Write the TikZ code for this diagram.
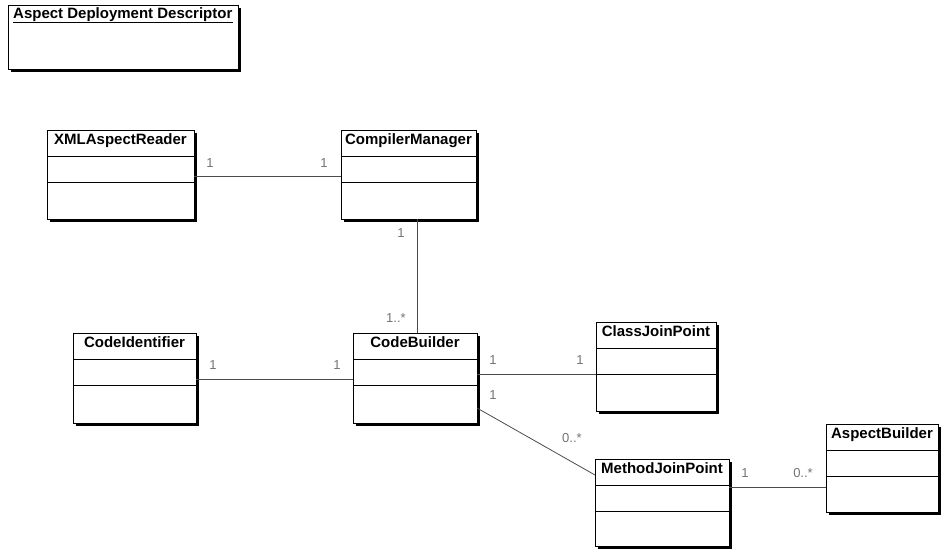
\documentclass[tikz,border=0pt]{standalone}
\usepackage{fontspec}
\setmainfont{Liberation Sans}
\usetikzlibrary{shadows}

\tikzset{
  umlclass/.style={rectangle, draw, line width=1pt, fill=white, anchor=north west, outer sep=0pt,
    minimum height=89pt,
    drop shadow={shadow xshift=3pt, shadow yshift=-3pt, fill=black, opacity=1},
    path picture={
      \draw[line width=0.8pt] ([yshift=-26pt]path picture bounding box.north west) -- ([yshift=-26pt]path picture bounding box.north east)
                              ([yshift=-52pt]path picture bounding box.north west) -- ([yshift=-52pt]path picture bounding box.north east);
    }},
  umlpackage/.style={rectangle, draw, line width=1pt, fill=white, anchor=north west, outer sep=0pt,
    drop shadow={shadow xshift=3pt, shadow yshift=-3pt, fill=black, opacity=1},
    path picture={
      \draw[line width=0.8pt] ([xshift=5pt,yshift=-17pt]path picture bounding box.north west) -- ([xshift=-5pt,yshift=-17pt]path picture bounding box.north east);
    }},
  umltitle/.style={font=\bfseries\fontsize{15}{17}\selectfont, inner sep=2pt, anchor=north, yshift=-1.5pt},
  mult/.style={font=\fontsize{13}{15}\selectfont, text=black!55, inner sep=0pt},
  assoc/.style={draw=black!70, line width=0.8pt}
}

\begin{document}
\begin{tikzpicture}[x=1pt, y=-1pt]
    \useasboundingbox (0,0) rectangle (946,550);

    % Deployment descriptor at the top
    \node[umlpackage, minimum width=230pt, minimum height=64pt] (add) at (8,5) {};
    \node[font=\bfseries\fontsize{15}{17}\selectfont, inner sep=2pt, anchor=north west] (addname) at ([xshift=3pt,yshift=-0.5pt]add.north west) {Aspect Deployment Descriptor};

    % Class boxes
    \node[umlclass, minimum width=147pt] (xml) at (47,130) {};
    \node[umlclass, minimum width=135pt] (cm) at (341,130) {};
    \node[umlclass, minimum width=123pt, minimum height=90pt] (ci) at (73,333) {};
    \node[umlclass, minimum width=124pt, minimum height=90pt] (cb) at (353,333) {};
    \node[umlclass, minimum width=120pt] (cjp) at (596,322) {};
    \node[umlclass, minimum width=134pt, minimum height=87pt] (mjp) at (595,459) {};
    \node[umlclass, minimum width=112pt, minimum height=88pt] (ab) at (826,424) {};

    % Class names
    \node[umltitle] (xmlname) at (xml.north) {XMLAspectReader};
    \node[umltitle] (cmname) at (cm.north) {CompilerManager};
    \node[umltitle] (ciname) at (ci.north) {CodeIdentifier};
    \node[umltitle] (cbname) at (cb.north) {CodeBuilder};
    \node[umltitle] (cjpname) at (cjp.north) {ClassJoinPoint};
    \node[umltitle] (mjpname) at (mjp.north) {MethodJoinPoint};
    \node[umltitle] (abname) at (ab.north) {AspectBuilder};

    % Associations
    \draw[assoc] (xml.east |- 0,176) -- (cm.west |- 0,176);
    \draw[assoc] (cm.south -| 417,0) -- (cb.north -| 417,0);
    \draw[assoc] (ci.east |- 0,379) -- (cb.west |- 0,379);
    \draw[assoc] (cb.east |- 0,374) -- (cjp.west |- 0,374);
    \draw[assoc] ([yshift=15pt]cb.south east) -- ([yshift=-16pt]mjp.north west);
    \draw[assoc] (mjp.east |- 0,487) -- (ab.west |- 0,487);

    % Multiplicities
    \node[mult] (m1) at (210,163) {1};
    \node[mult] (m2) at (324,163) {1};
    \node[mult] (m3) at (401,233) {1};
    \node[mult] (m4) at (396,318) {1..*};
    \node[mult] (m5) at (213,365) {1};
    \node[mult] (m6) at (337,365) {1};
    \node[mult] (m7) at (493,360) {1};
    \node[mult] (m8) at (580,360) {1};
    \node[mult] (m9) at (493,395) {1};
    \node[mult] (m10) at (572,438) {0..*};
    \node[mult] (m11) at (745,473) {1};
    \node[mult] (m12) at (803,473) {0..*};
\end{tikzpicture}
\end{document}
